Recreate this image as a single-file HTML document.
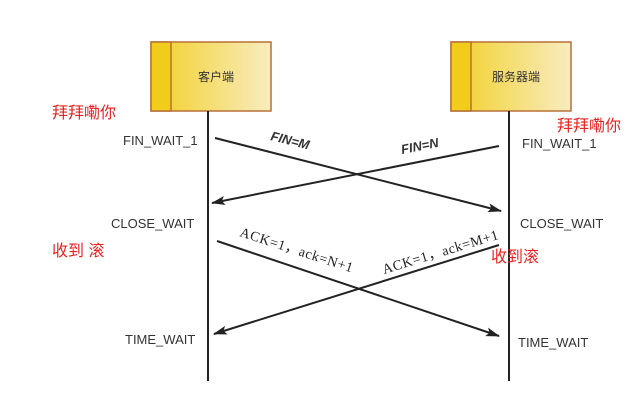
<!DOCTYPE html>
<html><head><meta charset="utf-8"><style>
body{margin:0;background:#fff;}
svg{display:block}
text{font-family:"Liberation Sans","Noto Sans CJK SC",sans-serif;}
</style></head><body>
<svg width="638" height="414" xmlns="http://www.w3.org/2000/svg">
<defs>
<linearGradient id="g" x1="0" x2="1"><stop offset="0" stop-color="#f2d027"/><stop offset="1" stop-color="#f8ecc0"/></linearGradient>
<marker id="a" markerWidth="14" markerHeight="9" refX="13" refY="4.5" orient="auto" markerUnits="userSpaceOnUse"><path d="M0,0 L14,4.5 L0,9 L3,4.5 Z" fill="#222"/></marker>
</defs>
<rect x="151" y="42" width="120" height="69" fill="url(#g)" stroke="#b8703a" stroke-width="1.5"/>
<rect x="151" y="42" width="20" height="69" fill="#f2cc1a" stroke="#b8703a" stroke-width="1.5"/>
<text x="216" y="81" font-size="12" fill="#333" text-anchor="middle">客户端</text>
<rect x="451" y="42" width="120" height="69" fill="url(#g)" stroke="#b8703a" stroke-width="1.5"/>
<rect x="451" y="42" width="20" height="69" fill="#f2cc1a" stroke="#b8703a" stroke-width="1.5"/>
<text x="516" y="81" font-size="12" fill="#333" text-anchor="middle">服务器端</text>
<line x1="208" y1="111" x2="208" y2="381" stroke="#222" stroke-width="2"/>
<line x1="509" y1="111" x2="509" y2="381" stroke="#222" stroke-width="2"/>
<g stroke="#222" stroke-width="2" marker-end="url(#a)">
<line x1="215" y1="138" x2="501" y2="211"/>
<line x1="499" y1="146" x2="212" y2="203"/>
<line x1="217" y1="241" x2="499" y2="336"/>
<line x1="499" y1="245" x2="214" y2="334"/>
</g>
<g font-size="13" fill="#333">
<text x="123" y="145">FIN_WAIT_1</text>
<text x="522" y="148">FIN_WAIT_1</text>
<text x="111" y="228">CLOSE_WAIT</text>
<text x="520" y="228">CLOSE_WAIT</text>
<text x="125" y="344">TIME_WAIT</text>
<text x="518" y="347">TIME_WAIT</text>
</g>
<text x="270" y="140" font-size="13" font-weight="bold" font-style="italic" fill="#333" transform="rotate(14 270 140)">FIN=M</text>
<text x="402" y="154" font-size="13" font-weight="bold" font-style="italic" fill="#333" transform="rotate(-11 402 154)">FIN=N</text>
<text x="239" y="236" font-size="14" fill="#222" letter-spacing="0.6" transform="rotate(18 239 236)" style="font-family:'Liberation Serif',serif">ACK=1，ack=N+1</text>
<text x="384" y="274" font-size="14" fill="#222" letter-spacing="0.6" transform="rotate(-17 384 274)" style="font-family:'Liberation Serif',serif">ACK=1，ack=M+1</text>
<g font-size="16" fill="#e8231f">
<text x="52" y="118">拜拜嘞你</text>
<text x="557" y="131">拜拜嘞你</text>
<text x="52" y="256">收到 滚</text>
<text x="491" y="262">收到滚</text>
</g>
</svg>
</body></html>
